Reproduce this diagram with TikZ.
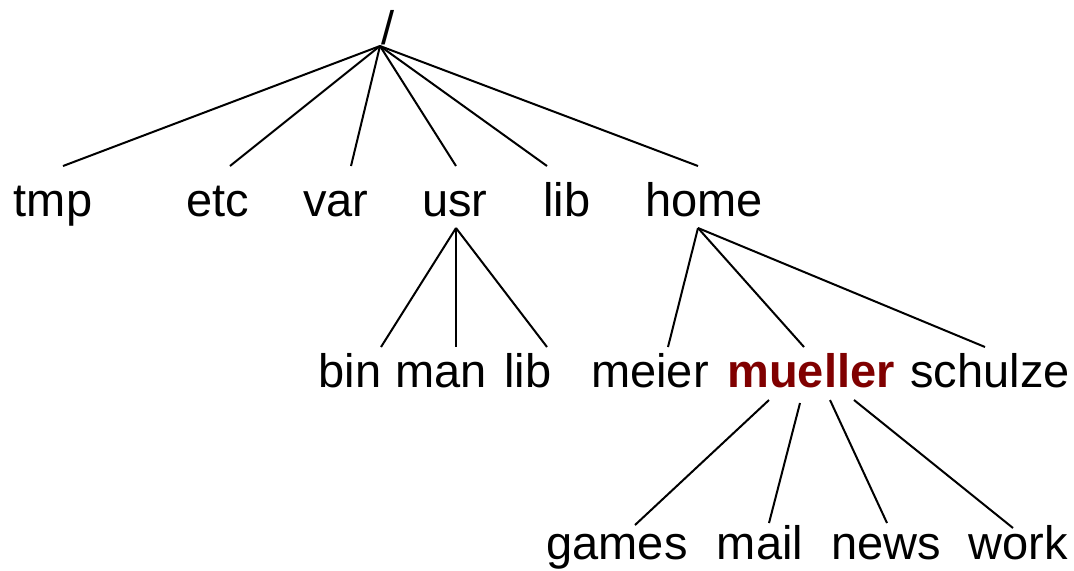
\documentclass[tikz,border=0pt]{standalone}
\usepackage{fontspec}
\setmainfont{Liberation Sans}
\definecolor{darkred}{RGB}{128,0,0}

\begin{document}
\begin{tikzpicture}[x=0.5pt, y=-0.5pt,
	dir/.style={inner sep=0pt, anchor=base, font=\fontsize{23.5}{28}\selectfont},
	own/.style={dir, font=\fontsize{23.5}{28}\selectfont\bfseries, text=darkred},
	link/.style={line width=1pt}]
  \useasboundingbox (0,0) rectangle (1074,570);
  \node[dir] (root) at (388,44) {/};
  \node[dir] (tmp) at (53,216) {tmp};
  \node[dir] (etc) at (218,216) {etc};
  \node[dir] (var) at (336,216) {var};
  \node[dir] (usr) at (455,216) {usr};
  \node[dir] (lib) at (567,216) {lib};
  \node[dir] (home) at (704,216) {home};
  \node[dir] (bin) at (350,387) {bin};
  \node[dir] (man) at (441,387) {man};
  \node[dir] (usrlib) at (528,387) {lib};
  \node[dir] (meier) at (650,387) {meier};
  \node[own] (mueller) at (811,387) {mueller};
  \node[dir] (schulze) at (990,387) {schulze};
  \node[dir] (games) at (617,559) {games};
  \node[dir] (mail) at (760,559) {mail};
  \node[dir] (news) at (886,559) {news};
  \node[dir] (work) at (1018,559) {work};
  \coordinate (roothub) at ([shift={(-8,2)}]root.base);
  \coordinate (usrhub) at ([shift={(1,12)}]usr.base);
  \coordinate (homehub) at ([shift={(-6,12)}]home.base);
  \foreach \d/\dx in {tmp/10, etc/12, var/15, usr/1, lib/-20, home/-6}
    \draw[link] (roothub) -- ([shift={(\dx,-50)}]\d.base);
  \foreach \d/\dx in {bin/31, man/15, usrlib/19}
    \draw[link] (usrhub) -- ([shift={(\dx,-40)}]\d.base);
  \foreach \d/\dx in {meier/18, mueller/-7, schulze/-5}
    \draw[link] (homehub) -- ([shift={(\dx,-40)}]\d.base);
  \foreach \sx/\sy/\d/\dx/\dy in {-42/13/games/18/-34, -11/16/mail/9/-36, 19/13/news/1/-36, 43/13/work/-5/-31}
    \draw[link] ([shift={(\sx,\sy)}]mueller.base) -- ([shift={(\dx,\dy)}]\d.base);
\end{tikzpicture}
\end{document}
